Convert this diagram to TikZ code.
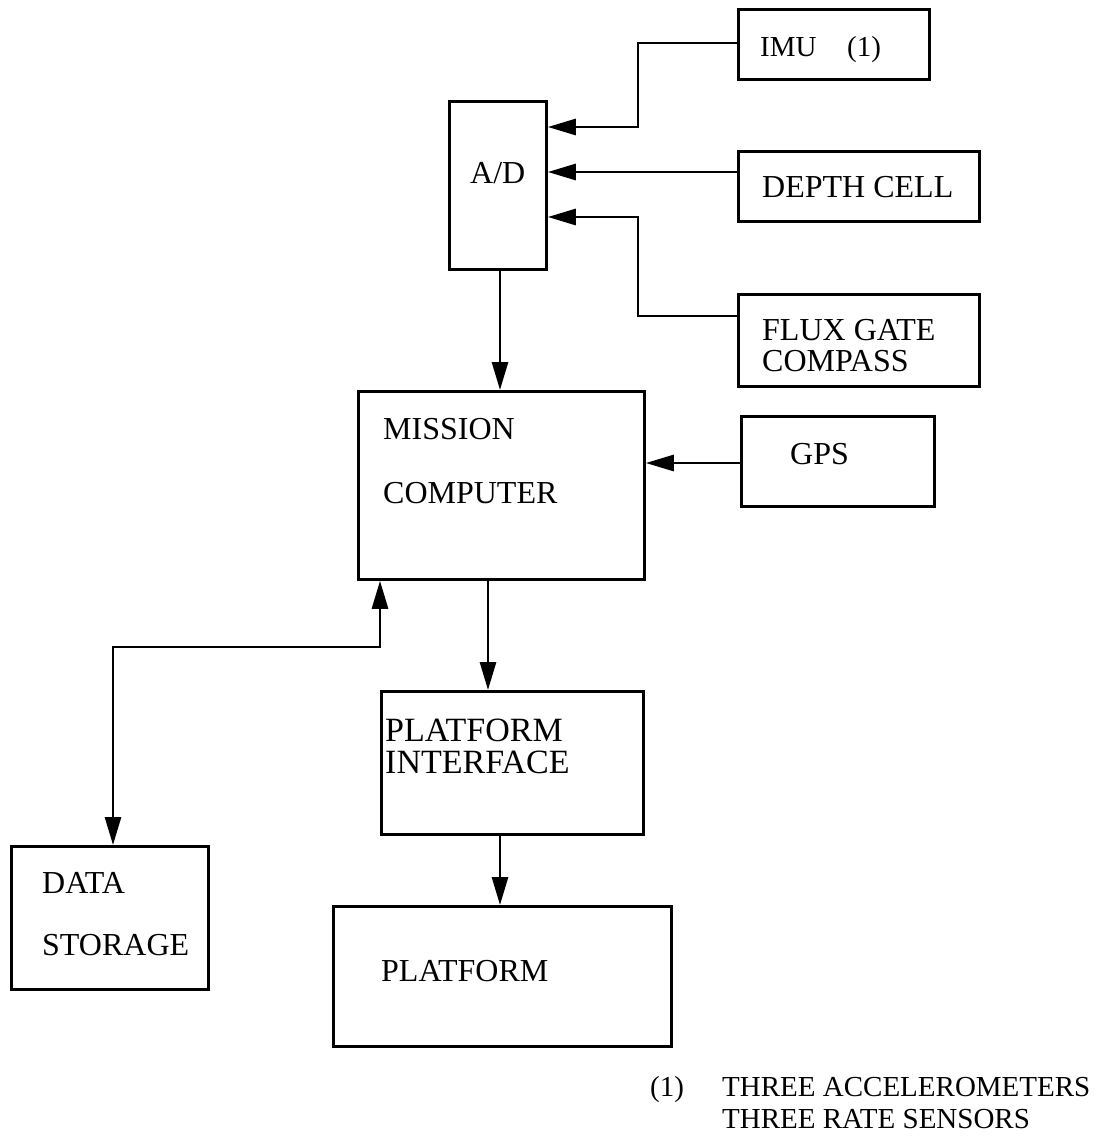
\documentclass[tikz,border=0pt]{standalone}
\usepackage{fontspec}
\setmainfont{Liberation Serif}
\usetikzlibrary{arrows.meta}
\begin{document}
\begin{tikzpicture}[x=1pt,y=-1pt,
  box/.style={draw, line width=2.8pt, inner sep=0pt, anchor=north west},
  lbl/.style={anchor=base west, inner sep=0pt, font=\fontsize{32}{35}\selectfont},
  smalllbl/.style={lbl, font=\fontsize{29}{32}\selectfont},
  widelbl/.style={lbl, font=\fontsize{34}{37}\selectfont},
  wire/.style={line width=2.8pt},
  arr/.style={wire, -{Triangle[length=28pt,width=16pt]}},
  darr/.style={wire, {Triangle[length=28pt,width=16pt]}-{Triangle[length=28pt,width=16pt]}}]
\useasboundingbox (0,0) rectangle (1101,1136);
% boxes
\node[box, minimum width=191pt, minimum height=70pt] (imu) at (737,8) {};
\node[box, minimum width=97pt, minimum height=168pt] (ad) at (448,100) {};
\node[box, minimum width=241pt, minimum height=70pt] (depth) at (737,150) {};
\node[box, minimum width=241pt, minimum height=92pt] (flux) at (737,293) {};
\node[box, minimum width=286pt, minimum height=188pt] (mc) at (357,390) {};
\node[box, minimum width=193pt, minimum height=90pt] (gps) at (740,415) {};
\node[box, minimum width=262pt, minimum height=143pt] (pi) at (380,690) {};
\node[box, minimum width=338pt, minimum height=140pt] (plat) at (332,905) {};
\node[box, minimum width=197pt, minimum height=143pt] (ds) at (10,845) {};
% labels
\node[smalllbl] (timu) at (760,56) {IMU};
\node[smalllbl] (timuref) at (847,56) {(1)};
\node[lbl] (tad) at (470,183) {A/D};
\node[lbl] (tdepth) at (762,197) {DEPTH CELL};
\node[lbl] (tflux1) at (762,340) {FLUX GATE};
\node[lbl] (tflux2) at (762,371) {COMPASS};
\node[lbl] (tmc1) at (383,439) {MISSION};
\node[lbl] (tmc2) at (383,503) {COMPUTER};
\node[lbl] (tgps) at (790,464) {GPS};
\node[widelbl] (tpi1) at (385,741) {PLATFORM};
\node[widelbl] (tpi2) at (385,773) {INTERFACE};
\node[lbl] (tds1) at (42,893) {DATA};
\node[lbl] (tds2) at (42,955) {STORAGE};
\node[lbl] (tplat) at (381,981) {PLATFORM};
\node[smalllbl] (tnote) at (650,1096) {(1)};
\node[smalllbl] (tnote1) at (722,1096) {THREE ACCELEROMETERS};
\node[smalllbl] (tnote2) at (722,1128) {THREE RATE SENSORS};
% connector coordinates
\coordinate (imuOut) at (737,43);
\coordinate (adIn1) at (545,127);
\coordinate (adIn2) at (545,172);
\coordinate (adIn3) at (545,217);
\coordinate (fluxOut) at (737,316);
\coordinate (busx) at (638,0);
\coordinate (adOut) at (500,268);
\coordinate (gpsIn) at (643,463);
\coordinate (mcOut) at (488,578);
\coordinate (piOut) at (500,833);
\coordinate (mcDs) at (380,578);
\coordinate (dsBend) at (113,647);
% connectors
\draw[arr] (imu.west |- imuOut) -- (busx |- imuOut) -- (busx |- adIn1) -- (ad.east |- adIn1);
\draw[arr] (depth.west |- adIn2) -- (ad.east |- adIn2);
\draw[arr] (flux.west |- fluxOut) -- (busx |- fluxOut) -- (busx |- adIn3) -- (ad.east |- adIn3);
\draw[arr] (adOut |- ad.south) -- (adOut |- mc.north);
\draw[arr] (gps.west |- gpsIn) -- (mc.east |- gpsIn);
\draw[arr] (mcOut |- mc.south) -- (mcOut |- pi.north);
\draw[arr] (piOut |- pi.south) -- (piOut |- plat.north);
\draw[darr] (mcDs |- mc.south) -- (mcDs |- dsBend) -- (dsBend) -- (dsBend |- ds.north);
\end{tikzpicture}
\end{document}
